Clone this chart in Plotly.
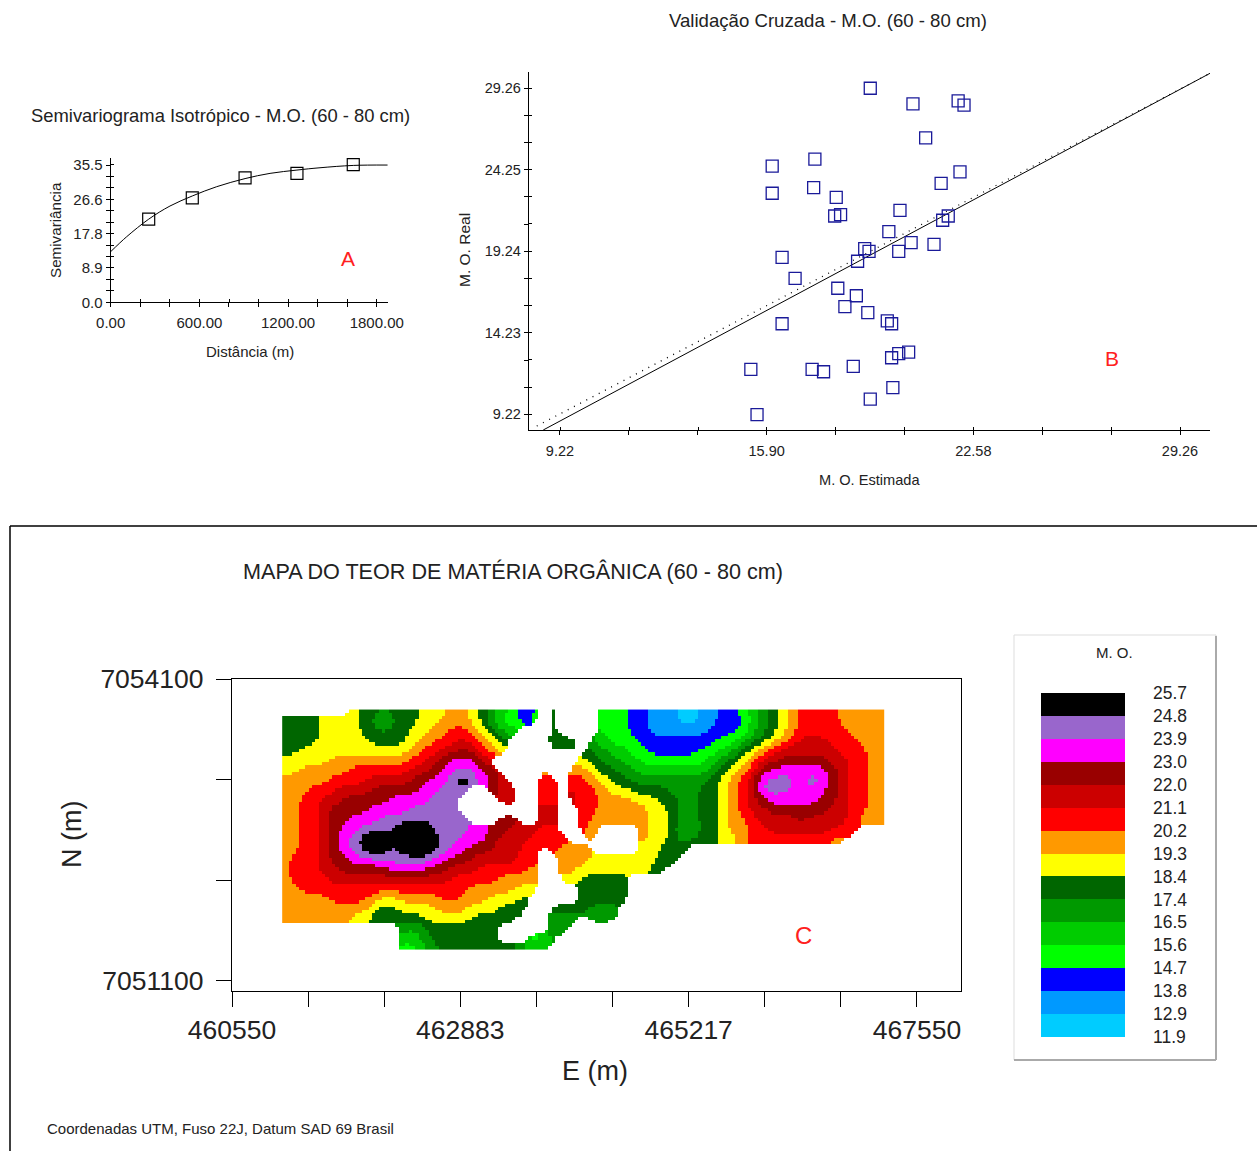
import numpy as np
import plotly.graph_objects as go

W, H = 1257, 1151

# ---------- A: semivariogram ----------
semi_x = [257, 552, 909, 1260, 1641]
semi_y = [21.5, 27.0, 32.2, 33.35, 35.6]
model_x = [0, 108, 257, 401, 552, 717, 909, 1078, 1260, 1416, 1641, 1873]
model_y = [13.1, 16.96, 21.5, 24.9, 27.5, 29.9, 32.0, 33.35, 34.2, 34.8, 35.4, 35.5]
semi_xticks = [200 * i for i in range(10)]
semi_xlabels = ["0.00", "", "", "600.00", "", "", "1200.00", "", "", "1800.00"]
semi_yticks = [35.5 / 12 * i for i in range(13)]
semi_ylabels = ["0.0", "", "", "8.9", "", "", "17.8", "", "", "26.6", "", "", "35.5"]

# ---------- B: cross validation ----------
est = [19.25, 20.63, 22.09, 22.28, 21.04, 17.46, 22.15, 21.54, 17.42, 18.15, 18.10, 18.29,
       20.21, 21.77, 21.59, 19.85, 20.57, 21.31, 19.07, 19.21, 20.17, 18.84, 18.20, 18.80,
       18.43, 19.17, 19.80, 19.94, 20.49, 20.17, 19.94, 18.70, 17.37, 17.74, 19.98, 19.25,
       16.08, 16.08, 16.40, 16.82, 16.40, 15.39, 15.59]
real = [29.26, 28.30, 28.48, 28.23, 26.21, 24.90, 24.12, 23.42, 23.15, 22.56, 21.41, 21.49,
        21.76, 21.41, 21.15, 20.45, 19.77, 19.67, 19.40, 19.24, 19.24, 18.63, 16.97, 16.51,
        15.84, 15.47, 14.96, 14.79, 13.05, 12.95, 12.70, 12.17, 11.99, 11.84, 10.86, 10.16,
        24.47, 22.81, 18.87, 17.58, 14.79, 11.99, 9.20]
reg_x = [8.68, 30.23]
reg_y = [8.26, 30.18]
one_x = [8.47, 30.23]
one_y = [8.50, 30.18]
val_xticks = [9.22 + 2.2267 * i for i in range(10)]
val_xlabels = ["9.22", "", "", "15.90", "", "", "22.58", "", "", "29.26"]
val_yticks = [9.22 + 1.67 * i for i in range(13)]
val_ylabels = ["9.22", "", "", "14.23", "", "", "19.24", "", "", "24.25", "", "", "29.26"]

# ---------- C: map ----------
band_labels = ["11.9", "12.9", "13.8", "14.7", "15.6", "16.5", "17.4", "18.4", "19.3",
               "20.2", "21.1", "22.0", "23.0", "23.9", "24.8", "25.7"]
band_colors = ["#00CCFF", "#0099FF", "#0000FF", "#00FF00", "#00CC00", "#009900", "#006600",
               "#FFFF00", "#FF9900", "#FF0000", "#CC0000", "#990000", "#FF00FF", "#9966CC", "#000000"]
band_codes = "abcdefghijklmno"
band_mid = {c: 12.36 + 0.92 * i for i, c in enumerate(band_codes)}
band_mid["p"] = 26.5  # a small peak above the top band

map_left = [
    ".......hggfggghhhiihgfedcc.g..",
    "ggfghhihgfffgghhiiihgeddcc.g..",
    "gggghhihggfgghhiijjihgee...g..",
    "gggghhhhhgggghiijjkjihg....ggg",
    "gghhhhhhhhhhhijjkklkjih....g.g",
    "hhhhhiiiiiiiijjklmmmk.........",
    "hhiiiiijjjjjjkklmmnmml....i..i",
    "iiiiijjjjkkkkllmmnpnmlk...jj.j",
    "iiijjjkkklllllmmnnn..lkk..jj.k",
    "iijjkklllllmmmmnnn....kk..jj.k",
    "iijjkllllmmmmnnnnn........kk..",
    "iijjkllmmmnnnnnnnnn...ll..kk..",
    "iijjklmmnnnnpppnnnnmmllkkkjj..",
    "iijjklmnoppnpppo" + "nnmmmlkkkjjjj.",
    "iijjklmnoponoppo" + "nmmllkkkjj.jii",
    "ijjjkllmmmnnnnnmmllkkkkkjj..ii",
    "ijjjkklllllmmmmllkkkjjjjji..ii",
    "ijjjjkkkkkkkkkkkkjjjjjiiii..hh",
    "iijjjjjjjjjjjjjjjjjiiiiihh....",
    "iiiiijjjjihhiiiijjiiihhhg.....",
    "iiiiiiiiihgghhhhiiihhhggg..ggg",
    "iiiiiiihhgfggghhhhhggggg...fff",
    "............fefggggggg.....ff.",
    "............eefggffggg...cef..",
    "............ddefggggggggfee...",
]
map_right = [
    "..dddccbbbaabbccdefghijjjjiiiii",
    "..dddccbbbaabbcccefghijjjjiiiii",
    "..dddccbbbbbbcccdefghijjjjjiiii",
    ".fedddccccccccddefghijkkkjjjiii",
    ".ffeeddcccccddeeghijkkkkkkjjjii",
    "hgffeedddddddefghikklllllkkjjii",
    "ihggffeeeeeeefghijlmmmmmmlkjjii",
    "jihggffffffffghijknnnnmomlkjjii",
    "jjihhggggfffgghijknnnmmmmlkjjii",
    "jjiiiihhggffgghijklmmmmmllkjjii",
    "jjiiiiihhgffgghijkkllllllkkjjii",
    "jiiiiiihhgffgghiijkkkklkkkkjiii",
    "ji....ihhgeegghiijjkkkkkkkjj...",
    ".i....ihhgfggghhijjjjjjjjii....",
    "i.....hhggg....................",
    "ihhhhhhhgg.....................",
    "hhhhhhhgg......................",
    "ggggg..........................",
    "ggggg..........................",
    "ggggg..........................",
    "gfff...........................",
    ".fff...........................",
    "...............................",
    "...............................",
    "...............................",
]
assert all(len(r) == 30 for r in map_left) and all(len(r) == 31 for r in map_right)
grid_e = np.array([461080 + 101.9 * i for i in range(61)])
grid_n = np.array([7053780 - 98 * i for i in range(25)], dtype=float)
map_z = np.array([[band_mid.get(ch, np.nan) for ch in (a + b)] for a, b in zip(map_left, map_right)])
map_xticks = [460550 + 777.78 * i for i in range(10)]
map_xlabels = ["460550", "", "", "462883", "", "", "465217", "", "", "467550"]
map_yticks = [7051100, 7052100, 7053100, 7054100]
map_ylabels = ["7051100", "", "", "7054100"]

colorscale = []
for i, col in enumerate(band_colors):
    colorscale += [[i / 15, col], [(i + 1) / 15, col]]

# The raster is drawn three times finer than the read grid, which is how the source map looks.
FINE = 3
fine_e = np.linspace(grid_e[0], grid_e[-1], (len(grid_e) - 1) * FINE + 1)
fine_n = np.linspace(grid_n[0], grid_n[-1], (len(grid_n) - 1) * FINE + 1)


def fill_gaps(a):
    a = a.copy()
    while np.isnan(a).any():
        p = np.pad(a, 1, constant_values=np.nan)
        stack = np.stack([p[i:i + a.shape[0], j:j + a.shape[1]] for i in range(3) for j in range(3)])
        cnt = (~np.isnan(stack)).sum(axis=0)
        mean = np.nansum(stack, axis=0) / np.maximum(cnt, 1)
        a = np.where(np.isnan(a) & (cnt > 0), mean, a)
    return a


def refine(a):
    rows = np.array([np.interp(np.arange(len(fine_e)) / FINE, np.arange(a.shape[1]), r) for r in a])
    return np.array([np.interp(np.arange(len(fine_n)) / FINE, np.arange(a.shape[0]), c) for c in rows.T]).T


def soften(a, sigma=1.8):
    r = int(3 * sigma)
    k = np.exp(-0.5 * (np.arange(-r, r + 1) / sigma) ** 2)
    k /= k.sum()
    a = np.pad(a, r, mode="edge")
    a = np.apply_along_axis(lambda v: np.convolve(v, k, mode="same"), 0, a)
    a = np.apply_along_axis(lambda v: np.convolve(v, k, mode="same"), 1, a)
    return a[r:-r, r:-r]


fine_z = soften(refine(fill_gaps(map_z)))
fine_mask = soften(refine((~np.isnan(map_z)).astype(float))) > 0.55
fine_z[~fine_mask] = np.nan
fine_z = [[None if np.isnan(v) else float(v) for v in row] for row in fine_z]


def fx(px):
    return px / W


def fy(py):
    return 1 - py / H


INK = "#222222"
FONT = "Liberation Sans"

fig = go.Figure()
fig.add_trace(go.Scatter(x=model_x, y=model_y, mode="lines", line=dict(color="black", width=1, shape="spline"),
                         xaxis="x", yaxis="y", showlegend=False))
fig.add_trace(go.Scatter(x=semi_x, y=semi_y, mode="markers", xaxis="x", yaxis="y", showlegend=False,
                         marker=dict(symbol="square-open", size=12, color="black", line=dict(width=1.2))))
fig.add_trace(go.Scatter(x=one_x, y=one_y, mode="lines", line=dict(color="black", width=1.2, dash="1px,6px"),
                         xaxis="x2", yaxis="y2", showlegend=False))
fig.add_trace(go.Scatter(x=reg_x, y=reg_y, mode="lines", line=dict(color="black", width=1),
                         xaxis="x2", yaxis="y2", showlegend=False))
fig.add_trace(go.Scatter(x=est, y=real, mode="markers", xaxis="x2", yaxis="y2", showlegend=False,
                         marker=dict(symbol="square-open", size=12, color="#1A1A99", line=dict(width=1.3))))
fig.add_trace(go.Heatmap(x=fine_e, y=fine_n, z=fine_z, xaxis="x3", yaxis="y3", showscale=False, hoverongaps=False,
                         colorscale=colorscale, zmin=11.9, zmax=25.7))
fig.add_trace(go.Heatmap(x=[0, 1], y=list(range(16)), z=[[12.36 + 0.92 * i] for i in range(15)],
                         xaxis="x4", yaxis="y4", showscale=False, colorscale=colorscale, zmin=11.9, zmax=25.7))


def cross_axis(domain, rng, vals, labels, anchor, size, off, standoff=0):
    return dict(domain=domain, range=rng, anchor=anchor, showgrid=False, zeroline=False, showline=True,
                linecolor="black", linewidth=1.3, tickmode="array", tickvals=vals, ticktext=labels,
                ticks="outside", ticklen=4, tickcolor="black", tickwidth=1, automargin=False,
                ticklabelstandoff=standoff, tickfont=dict(family=FONT, size=size, color=INK),
                minor=dict(tickmode="array", tickvals=[v + off for v in vals], ticks="inside", ticklen=3,
                           tickcolor="black", tickwidth=1, showgrid=False))


layout_axes = dict(
    xaxis=cross_axis([fx(110.7), fx(388.3)], [0, 1878], semi_xticks, semi_xlabels, "y", 15, 1, standoff=3),
    yaxis=cross_axis([fy(302.3), fy(157.7)], [0, 37.4], semi_yticks, semi_ylabels, "x", 15, 0.02),
    xaxis2=cross_axis([fx(529), fx(1210)], [8.22, 30.23], val_xticks, val_xlabels, "y2", 14.5, 0.01, standoff=3),
    yaxis2=cross_axis([fy(430), fy(72)], [8.26, 30.26], val_yticks, val_ylabels, "x2", 14.5, 0.01),
    xaxis3=dict(domain=[fx(232), fx(961)], range=[460550, 468000], anchor="y3", showgrid=False, zeroline=False,
                showline=True, mirror=True, linecolor="black", linewidth=1.3, tickmode="array", automargin=False,
                tickvals=map_xticks, ticktext=map_xlabels, ticks="outside", ticklen=15, tickcolor="black",
                tickfont=dict(family=FONT, size=26.5, color=INK)),
    yaxis3=dict(domain=[fy(991), fy(679)], range=[7051000, 7054100], anchor="x3", showgrid=False, zeroline=False,
                showline=True, mirror=True, linecolor="black", linewidth=1.3, tickmode="array", automargin=False,
                tickvals=map_yticks, ticktext=map_ylabels, ticks="outside", ticklen=15, tickcolor="black",
                ticklabelstandoff=7, tickfont=dict(family=FONT, size=26.5, color=INK)),
    xaxis4=dict(domain=[fx(1041), fx(1125)], range=[0, 1], anchor="y4", visible=False, automargin=False),
    yaxis4=dict(domain=[fy(1037), fy(693)], range=[0, 15], anchor="x4", side="right", showgrid=False, automargin=False,
                zeroline=False, showline=False, tickmode="array", tickvals=list(range(16)), ticktext=band_labels,
                ticks="", ticklabelstandoff=27, tickfont=dict(family=FONT, size=17.5, color=INK)),
)


def text(s, x, y, size, color=INK, angle=0, anchor="center"):
    return dict(text=s, x=fx(x), y=fy(y), xref="paper", yref="paper", showarrow=False, textangle=angle,
                xanchor=anchor, yanchor="middle", font=dict(family=FONT, size=size, color=color))


annotations = [
    text("Validação Cruzada - M.O. (60 - 80 cm)", 828, 20, 18.6),
    text("Semivariograma Isotrópico - M.O. (60 - 80 cm)", 220, 115, 18.4),
    text("Semivariância", 55, 230, 15.2, angle=-90),
    text("Distância (m)", 250, 351, 15),
    text("M. O. Real", 464, 250, 15.5, angle=-90),
    text("M. O. Estimada", 869, 480, 14.6),
    text("A", 348, 258, 21, color="#FF2020"),
    text("B", 1112, 358, 21, color="#FF2020"),
    text("C", 803, 935, 24, color="#FF2020"),
    text("MAPA DO TEOR DE MATÉRIA ORGÂNICA (60 - 80 cm)", 513, 571, 21.6),
    text("N (m)", 72, 835, 27, angle=-90),
    text("E (m)", 595, 1071, 27),
    text("M. O.", 1114, 652, 15),
    text("Coordenadas UTM, Fuso 22J, Datum SAD 69 Brasil", 45, 1128, 15, anchor="left"),
]


def paper_rect(x0, y0, x1, y1, **kw):
    return dict(type="rect", xref="paper", yref="paper", x0=fx(x0), x1=fx(x1), y0=fy(y0), y1=fy(y1), **kw)


def paper_line(x0, y0, x1, y1, color="black", width=1.5):
    return dict(type="line", xref="paper", yref="paper", x0=fx(x0), x1=fx(x1), y0=fy(y0), y1=fy(y1),
                line=dict(color=color, width=width))


shapes = [
    paper_line(10, 526, 1257, 526),
    paper_line(10, 526, 10, 1151),
    paper_rect(1014, 635, 1216, 1060, line=dict(color="#DDDDDD", width=1), fillcolor="white", layer="below"),
    paper_line(1216, 636, 1216, 1060, color="#AAAAAA", width=2),
    paper_line(1014, 1060, 1216, 1060, color="#AAAAAA", width=2),
]

fig.update_layout(template=None, width=W, height=H, autosize=False, margin=dict(l=0, r=0, t=0, b=0),
                  paper_bgcolor="white", plot_bgcolor="rgba(0,0,0,0)", showlegend=False,
                  annotations=annotations, shapes=shapes, **layout_axes)

fig.write_html("out.html", config={"displayModeBar": False},
               post_script="document.body.style.margin='0';document.documentElement.style.overflow='hidden';")
